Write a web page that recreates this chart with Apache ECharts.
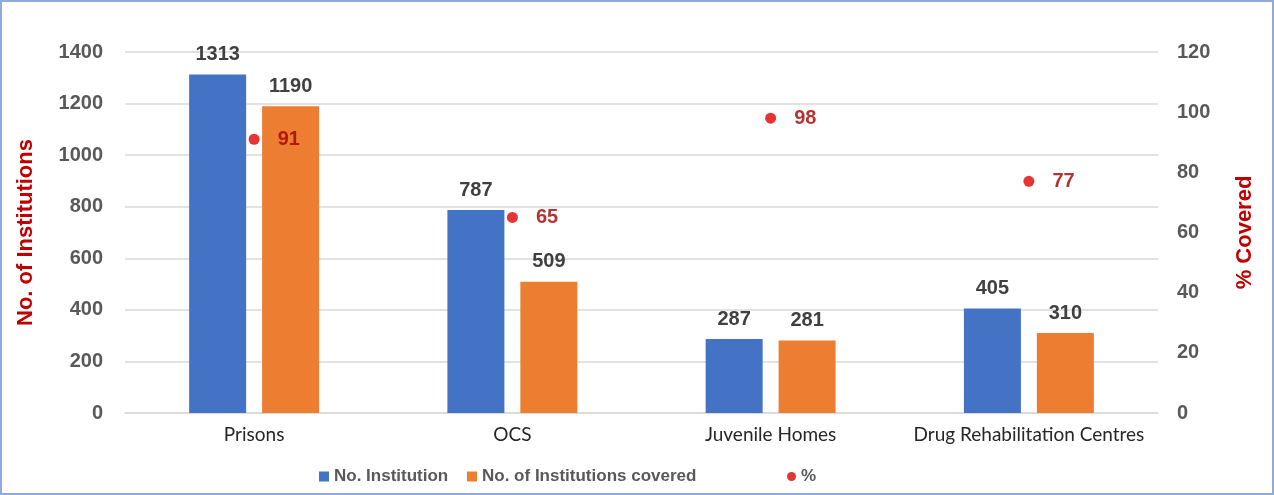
<!DOCTYPE html>
<html><head><meta charset="utf-8">
<script src="https://cdn.jsdelivr.net/npm/echarts@6/dist/echarts.min.js"></script>
<style>
html,body{margin:0;padding:0;background:#fff;}
#frame{position:absolute;left:0;top:0;width:1274px;height:495px;box-sizing:border-box;border:2px solid #8FAADC;}
#c{position:absolute;left:0;top:0;width:1274px;height:495px;}
</style></head>
<body><div id="frame"></div><div id="c"></div>
<script>
const categories = ['Prisons', 'OCS', 'Juvenile Homes', 'Drug Rehabilitation Centres'];
const institutions = [1313, 787, 287, 405];
const covered = [1190, 509, 281, 310];
const percent = [91, 65, 98, 77];
const seriesNames = ['No. Institution', 'No. of Institutions covered', '%'];

const chart = echarts.init(document.getElementById('c'));
const tickFont = {color:'#595959', fontSize:20, fontWeight:'bold', fontFamily:'Liberation Sans'};
const legendText = {color:'#595959', fontSize:17, fontWeight:'bold', fontFamily:'Liberation Sans'};
const valueLabel = {show:true, position:'top', distance:10, color:'#404040', fontSize:20, fontWeight:'bold', fontFamily:'Liberation Sans'};
chart.setOption({
  animation:false,
  grid:{left:125, right:116, top:52, bottom:82, outerBoundsMode:'none', containLabel:false},
  legend:[
    {data:[seriesNames[0]], left:314, top:463, itemWidth:10, itemHeight:10, icon:'rect', textStyle:legendText},
    {data:[seriesNames[1]], left:462, top:463, itemWidth:10, itemHeight:10, icon:'rect', textStyle:legendText},
    {data:[seriesNames[2]], left:782, top:463, itemWidth:9, itemHeight:9, icon:'circle', textStyle:legendText}
  ],
  xAxis:{type:'category', data:categories,
    axisLine:{lineStyle:{color:'#d9d9d9', width:1.5}}, axisTick:{show:false},
    axisLabel:{color:'#262626', fontSize:19, fontFamily:'Lato', margin:12, interval:0}},
  yAxis:[
    {type:'value', min:0, max:1400, interval:200,
     name:'No. of Institutions', nameLocation:'middle', nameGap:88, nameRotate:90,
     nameTextStyle:{color:'#C00000', fontSize:22, fontWeight:'bold', fontFamily:'Liberation Sans'},
     axisLabel:Object.assign({margin:22, formatter:v => String(v)}, tickFont),
     splitLine:{lineStyle:{color:'#d9d9d9', width:1.5}}, axisLine:{show:false}, axisTick:{show:false}},
    {type:'value', min:0, max:120, interval:20, position:'right',
     name:'% Covered', nameLocation:'middle', nameGap:76, nameRotate:90,
     nameTextStyle:{color:'#C00000', fontSize:22, fontWeight:'bold', fontFamily:'Liberation Sans'},
     axisLabel:Object.assign({margin:19, formatter:v => String(v)}, tickFont),
     splitLine:{show:false}, axisLine:{show:false}, axisTick:{show:false}}
  ],
  series:[
    {name:seriesNames[0], type:'bar', data:institutions, barWidth:57, barGap:'28%',
     itemStyle:{color:'#4472C4'}, label:valueLabel},
    {name:seriesNames[1], type:'bar', data:covered, barWidth:57,
     itemStyle:{color:'#ED7D31'}, label:valueLabel},
    {name:seriesNames[2], type:'scatter', yAxisIndex:1, data:percent, symbolSize:11, z:5,
     itemStyle:{color:'#E00000'},
     label:{show:true, position:'right', distance:18, color:'#A00000', fontSize:20, fontWeight:'bold', fontFamily:'Liberation Sans'}}
  ]
});
</script></body></html>
